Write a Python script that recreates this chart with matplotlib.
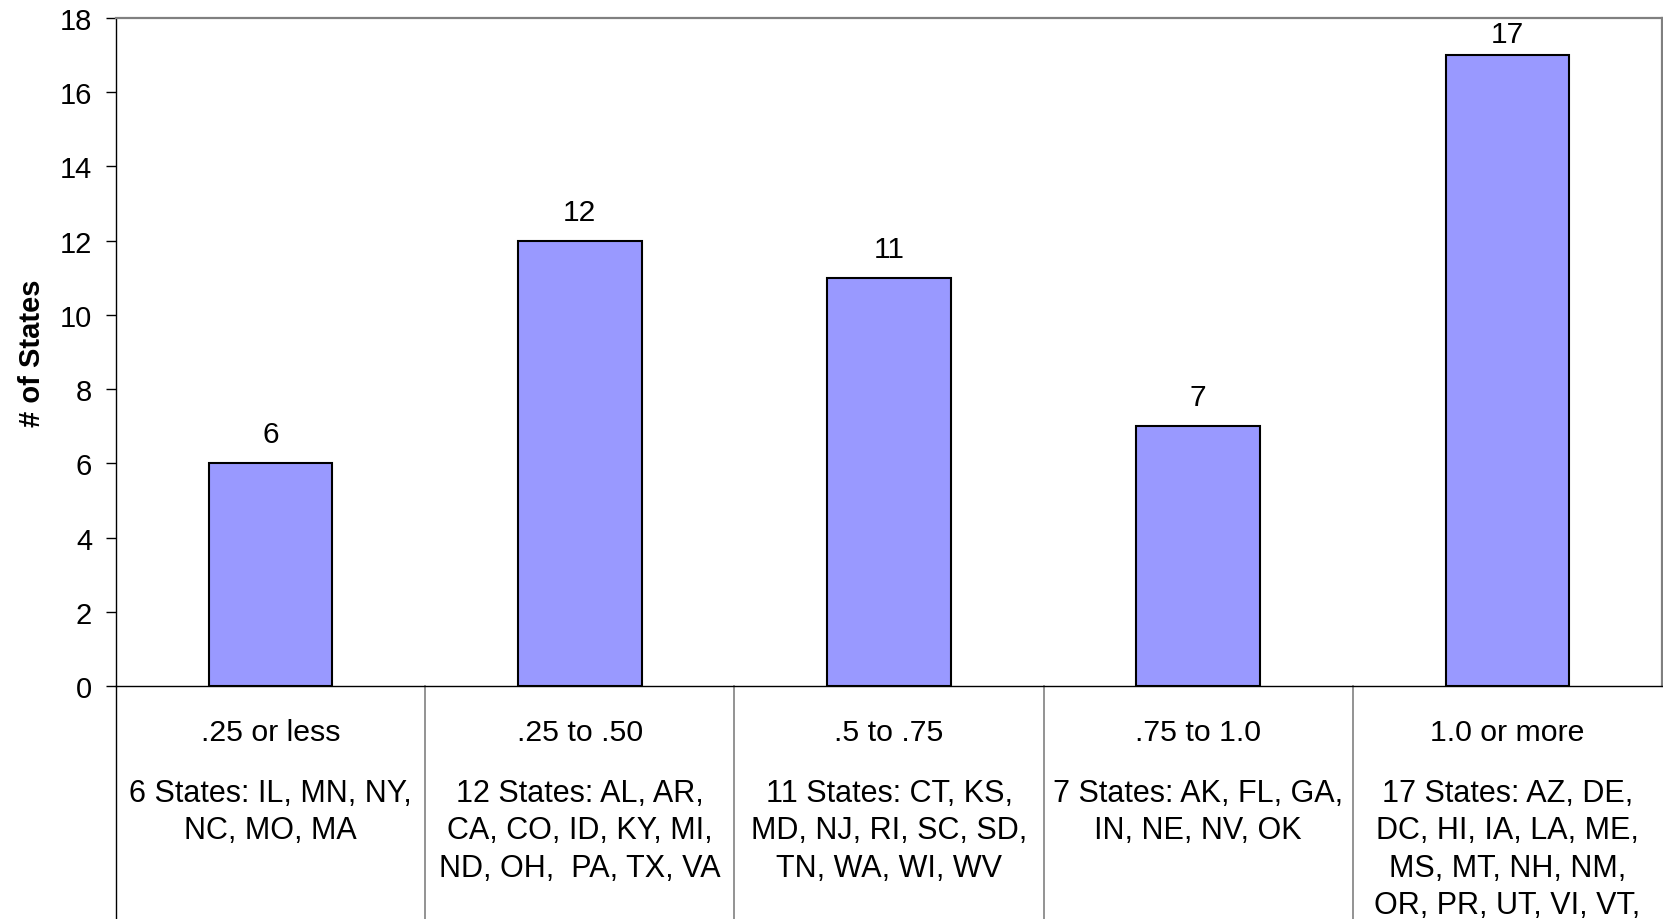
import matplotlib
matplotlib.use("Agg")
import matplotlib.pyplot as plt

plt.rcParams["font.family"] = ["Liberation Sans", "DejaVu Sans"]

# Ratio ranges and the number of states falling in each
categories = [".25 or less", ".25 to .50", ".5 to .75", ".75 to 1.0", "1.0 or more"]
state_counts = [6, 12, 11, 7, 17]
state_lists = [
    "6 States: IL, MN, NY,\nNC, MO, MA",
    "12 States: AL, AR,\nCA, CO, ID, KY, MI,\nND, OH,  PA, TX, VA",
    "11 States: CT, KS,\nMD, NJ, RI, SC, SD,\nTN, WA, WI, WV",
    "7 States: AK, FL, GA,\nIN, NE, NV, OK",
    "17 States: AZ, DE,\nDC, HI, IA, LA, ME,\nMS, MT, NH, NM,\nOR, PR, UT, VI, VT,",
]
y_ticks = [0, 2, 4, 6, 8, 10, 12, 14, 16, 18]

W, H = 1663, 920
fig = plt.figure(figsize=(W / 100, H / 100), dpi=100)
fig.patch.set_facecolor("white")

# plot area in pixel terms
left_px, right_px, top_px, base_px = 116, 1662, 19, 687
ax = fig.add_axes([left_px / W, 1 - base_px / H,
                   (right_px - left_px) / W, (base_px - top_px) / H])

x = list(range(len(categories)))
ax.bar(x, state_counts, width=0.4, color="#9999FF", edgecolor="black",
       linewidth=1.5, zorder=3)

ax.set_xlim(-0.5, len(categories) - 0.5)
ax.set_ylim(0, 18)
ax.set_yticks(y_ticks)
ax.set_xticks([])

ax.tick_params(axis="y", direction="out", length=7.2, width=1.0,
               pad=10, labelsize=21, colors="black")

for side in ("top", "right"):
    ax.spines[side].set_color("#808080")
    ax.spines[side].set_linewidth(1.6)
ax.spines["left"].set_color("black")
ax.spines["left"].set_linewidth(1.0)
ax.spines["bottom"].set_color("black")
ax.spines["bottom"].set_linewidth(1.0)

ax.set_ylabel("# of States", fontsize=21, fontweight="bold", va="center")
ax.yaxis.set_label_coords((32 - left_px) / (right_px - left_px), 0.5)

# value labels above each bar, kept inside the plot area
ppu = (base_px - top_px) / 18.0
for xi, v in zip(x, state_counts):
    room = (18 - v) * ppu
    off_px = 21.0
    if room < off_px + 24:
        off_px = room - 24
    ax.annotate(str(v), xy=(xi, v), xytext=(0, off_px * 72 / 100),
                textcoords="offset points", ha="center", va="baseline",
                fontsize=21.5, zorder=4)

# data table below the axis
trans = ax.get_xaxis_transform()
axh = base_px - top_px
bottom_y = -(H - base_px + 5) / axh
for b in [-0.5, 0.5, 1.5, 2.5, 3.5]:
    ax.plot([b, b], [0, bottom_y], transform=trans, clip_on=False,
            color="black" if b < 0 else "#808080",
            linewidth=1.0 if b < 0 else 1.2)

for xi, cat, states in zip(x, categories, state_lists):
    ax.text(xi, -(741 - base_px) / axh, cat, transform=trans,
            ha="center", va="baseline", fontsize=21.8, clip_on=False)
    ax.text(xi, -(779 - base_px) / axh, states, transform=trans,
            ha="center", va="top", fontsize=22, linespacing=1.32,
            multialignment="center", clip_on=False)

fig.savefig("out.png", dpi=100, facecolor="white")
